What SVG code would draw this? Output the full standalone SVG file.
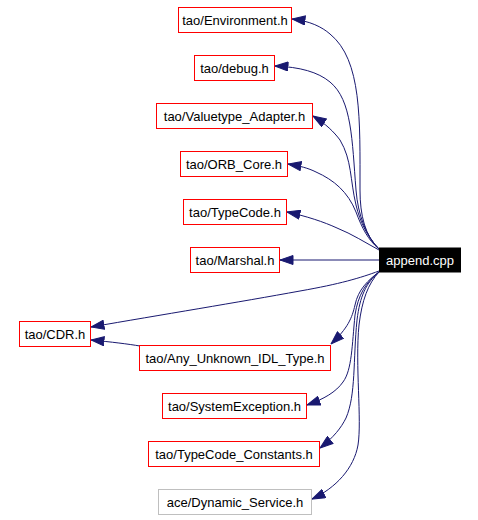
<svg xmlns="http://www.w3.org/2000/svg" width="478" height="520" viewBox="0 0 478 520">
<style>
.n rect{fill:#fff;stroke:#ff0000;stroke-width:1}
.n text{font-family:"Liberation Sans",Arial,sans-serif;font-size:13px;fill:#000;text-anchor:middle}
.g rect{stroke:#bfbfbf}
.root rect{fill:#000;stroke:#000}
.root text{fill:#fff}
.e path{fill:none;stroke:#191970;stroke-width:1}
</style>
<defs>
<marker id="ah" markerUnits="userSpaceOnUse" markerWidth="14" markerHeight="10" viewBox="0 0 13 10" refX="13" refY="5" orient="auto">
<path d="M0,0.5 L13,5 L0,9.5 z" fill="#191970" stroke="#191970"/>
</marker>
</defs>
<rect width="478" height="520" fill="#fff"/>
<g id="edges" class="e">
<path marker-end="url(#ah)" d="M379,249 C365,236 360,215 360,190 C360,120 362,60 330,34 C322,27 310,21 292,19"/>
<path marker-end="url(#ah)" d="M379,249 C366,236 358,215 356,190 C352,140 352,100 330,82 C318,72 300,67 275,66"/>
<path marker-end="url(#ah)" d="M379,249 C368,238 360,222 356,205 C350,180 352,160 340,140 C334,132 326,124 313,116"/>
<path marker-end="url(#ah)" d="M379,249 C368,240 362,228 356,212 C348,192 334,180 316,172 C308,168 300,166 288,164"/>
<path marker-end="url(#ah)" d="M379,250 C366,243 352,234 337,228 C324,222 306,216 287,212"/>
<path marker-end="url(#ah)" d="M379,260 L280,260"/>
<path marker-end="url(#ah)" d="M379,271 C360,278 340,284 300,291 C240,302 160,315 91,327"/>
<path marker-end="url(#ah)" d="M140,346 C128,344 112,342 91,340"/>
<path marker-end="url(#ah)" d="M379,272 C368,280 358,290 355,305 C352,318 348,328 331,344"/>
<path marker-end="url(#ah)" d="M379,272 C366,282 358,295 355,315 C352,345 352,370 343,382 C336,392 324,399 307,405"/>
<path marker-end="url(#ah)" d="M379,272 C366,283 360,296 357,320 C353,360 356,395 346,418 C341,428 334,437 320,448"/>
<path marker-end="url(#ah)" d="M379,272 C368,284 362,300 359,325 C355,365 362,420 358,445 C354,468 336,488 312,499"/>
</g>
<g id="append_cpp" class="n root"><rect x="379.5" y="248" width="81" height="24"/><text x="420" y="264.5">append.cpp</text></g>
<g id="tao_Environment_h" class="n"><rect x="178.5" y="7.5" width="113" height="25"/><text x="235" y="24.5">tao/Environment.h</text></g>
<g id="tao_debug_h" class="n"><rect x="194.5" y="55.5" width="80" height="25"/><text x="234.5" y="72.5">tao/debug.h</text></g>
<g id="tao_Valuetype_Adapter_h" class="n"><rect x="156.5" y="103.5" width="156" height="25"/><text x="234.5" y="120.5">tao/Valuetype_Adapter.h</text></g>
<g id="tao_ORB_Core_h" class="n"><rect x="180.5" y="151.5" width="107" height="25"/><text x="234" y="168.5">tao/ORB_Core.h</text></g>
<g id="tao_TypeCode_h" class="n"><rect x="183.5" y="199.5" width="103" height="25"/><text x="235" y="216.5">tao/TypeCode.h</text></g>
<g id="tao_Marshal_h" class="n"><rect x="190.5" y="247.5" width="89" height="25"/><text x="235" y="264.5">tao/Marshal.h</text></g>
<g id="tao_CDR_h" class="n"><rect x="19.5" y="321.5" width="71" height="25"/><text x="55" y="338.5">tao/CDR.h</text></g>
<g id="tao_Any_Unknown_IDL_Type_h" class="n"><rect x="139.5" y="345.5" width="191" height="25"/><text x="235" y="362.5">tao/Any_Unknown_IDL_Type.h</text></g>
<g id="tao_SystemException_h" class="n"><rect x="162.5" y="393.5" width="144" height="25"/><text x="234.5" y="410.5">tao/SystemException.h</text></g>
<g id="tao_TypeCode_Constants_h" class="n"><rect x="148.5" y="441.5" width="171" height="25"/><text x="234" y="458.5">tao/TypeCode_Constants.h</text></g>
<g id="ace_Dynamic_Service_h" class="n g"><rect x="158.5" y="489.5" width="153" height="25"/><text x="235" y="506.5">ace/Dynamic_Service.h</text></g>
</svg>
